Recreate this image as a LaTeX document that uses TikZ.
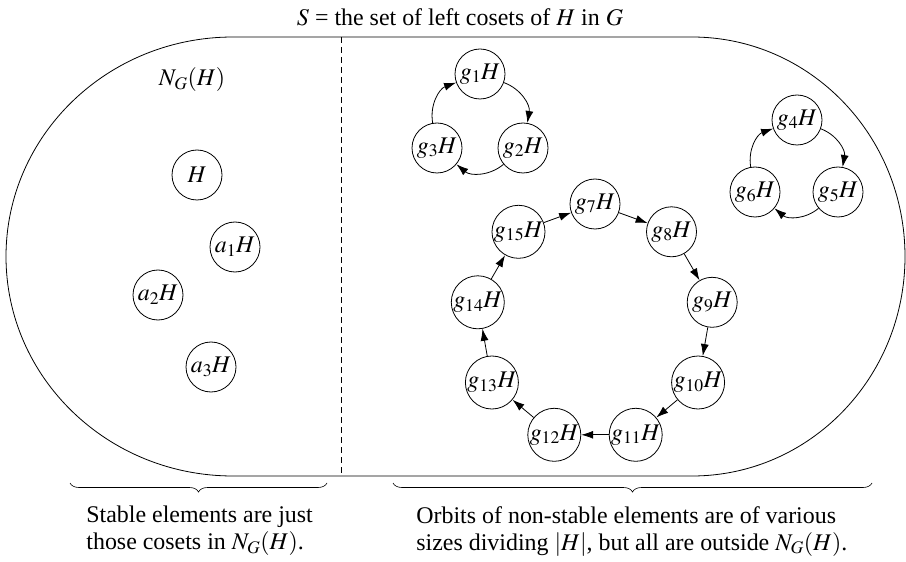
\documentclass[tikz,border=0pt]{standalone}
\usepackage{amsmath}
\usepackage{mathptmx}
\usepackage{fontspec}
\setmainfont{Liberation Serif}
\usetikzlibrary{arrows.meta, decorations.pathreplacing}

\begin{document}
\begin{tikzpicture}[x=1bp, y=-1bp, line width=0.8bp,
    font=\fontsize{24}{27}\selectfont,
    coset/.style={circle, draw, fill=white, inner sep=0pt, minimum size=50bp},
    orbit/.style={-{Latex[length=12bp, width=8bp]}},
    curly/.style={decorate, decoration={brace, mirror, amplitude=9bp}, line width=0.6bp}]
        \useasboundingbox (0,0) rectangle (906,562);

        % Outline of S
        \draw (233,37) -- (692,37)
            arc[start angle=-90, end angle=90, x radius=213, y radius=219.5]
            -- (233,476)
            arc[start angle=90, end angle=270, x radius=227, y radius=219.5]
            -- cycle;
        \draw[dash pattern=on 6bp off 4bp] (341,37) -- (341,476);

        % Labels
        \node (title) at (460,17) {$S$ = the set of left cosets of $H$ in $G$};
        \node (ng) at (192,80) {$N_G(H)$};

        % Stable cosets
        \node[coset] (h) at (197,175) {$H$};
        \node[coset] (a1) at (235,247) {$a_1H$};
        \node[coset] (a2) at (158,295) {$a_2H$};
        \node[coset] (a3) at (211,367) {$a_3H$};

        % Orbit of size 3
        \node[coset] (g1) at (480,74) {$g_1H$};
        \node[coset] (g2) at (523,148) {$g_2H$};
        \node[coset] (g3) at (437,148) {$g_3H$};
        \draw[orbit] (g1) to[bend left=40] (g2);
        \draw[orbit] (g2) to[bend left=40] (g3);
        \draw[orbit] (g3) to[bend left=40] (g1);

        % Another orbit of size 3
        \node[coset] (g4) at (797,120) {$g_4H$};
        \node[coset] (g5) at (838,192) {$g_5H$};
        \node[coset] (g6) at (755,192) {$g_6H$};
        \draw[orbit] (g4) to[bend left=40] (g5);
        \draw[orbit] (g5) to[bend left=40] (g6);
        \draw[orbit] (g6) to[bend left=40] (g4);

        % Orbit of size 9
        \node[coset] (g7) at (595,204) {$g_7H$};
        \node[coset] (g8) at (671.5,231.8) {$g_8H$};
        \node[coset] (g9) at (712.2,302.3) {$g_9H$};
        \node[coset] (g10) at (698.1,382.5) {$g_{10}H$};
        \node[coset] (g11) at (635.7,434.8) {$g_{11}H$};
        \node[coset] (g12) at (554.3,434.8) {$g_{12}H$};
        \node[coset] (g13) at (491.9,382.5) {$g_{13}H$};
        \node[coset] (g14) at (477.8,302.3) {$g_{14}H$};
        \node[coset] (g15) at (518.5,231.8) {$g_{15}H$};
        \draw[orbit] (g7) -- (g8);
        \draw[orbit] (g8) -- (g9);
        \draw[orbit] (g9) -- (g10);
        \draw[orbit] (g10) -- (g11);
        \draw[orbit] (g11) -- (g12);
        \draw[orbit] (g12) -- (g13);
        \draw[orbit] (g13) -- (g14);
        \draw[orbit] (g14) -- (g15);
        \draw[orbit] (g15) -- (g7);

        % Braces and notes
        \coordinate (lb1) at (70,483);
        \coordinate (lb2) at (327,483);
        \coordinate (rb1) at (393,483);
        \coordinate (rb2) at (872,483);
        \draw[curly] (lb1) -- (lb2);
        \draw[curly] (rb1) -- (rb2);
        \node[anchor=north west, align=left, inner sep=0pt] (stable) at (86,506)
            {Stable elements are just\\those cosets in $N_G(H)$.};
        \node[anchor=north west, align=left, inner sep=0pt] (nonstable) at (416,506)
            {Orbits of non-stable elements are of various\\sizes dividing $|H|$, but all are outside $N_G(H)$.};
    \end{tikzpicture}
\end{document}
